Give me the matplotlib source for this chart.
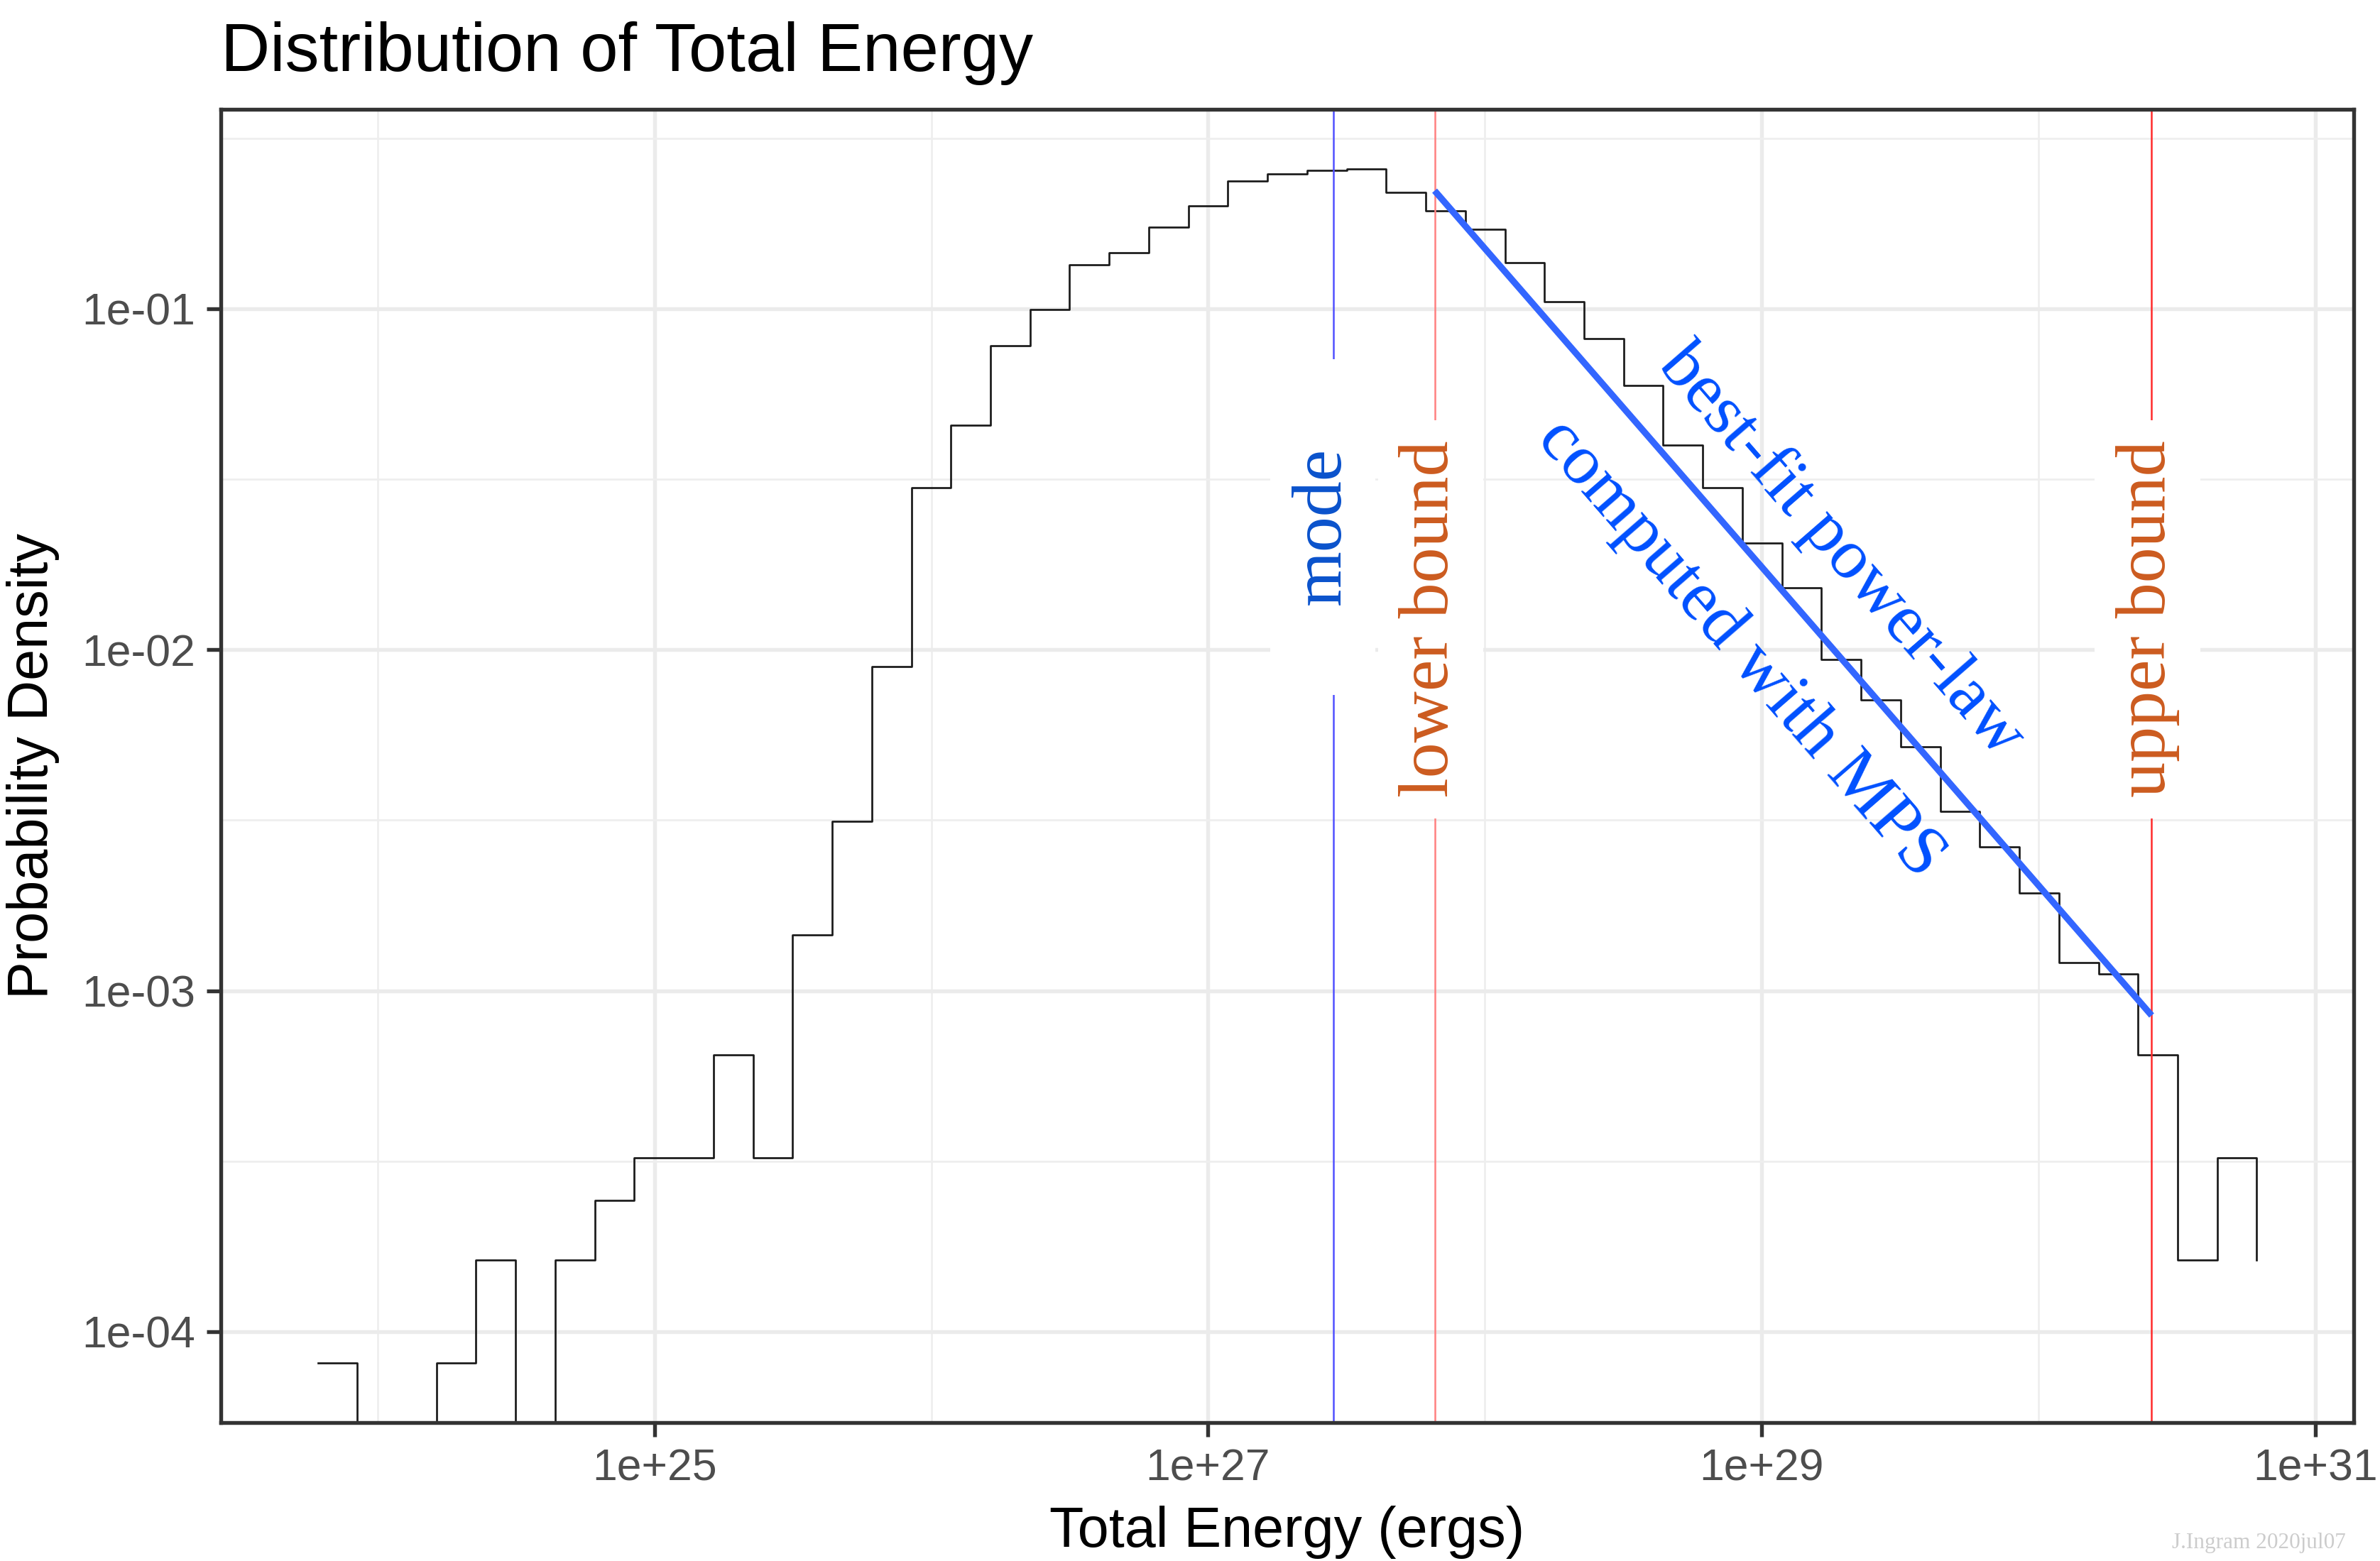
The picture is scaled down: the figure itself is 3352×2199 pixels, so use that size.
import numpy as np
import matplotlib
matplotlib.use("Agg")
import matplotlib.pyplot as plt
from matplotlib.ticker import FixedLocator, FixedFormatter, NullFormatter

plt.rcParams["font.family"] = ["Liberation Sans", "DejaVu Sans"]

# histogram of log10(total energy): 50 evenly spaced bin centres
log_energy_first = 23.784
log_energy_last = 30.788
n_bins = 50
density = [8.1e-5, 0, 0, 8.1e-5, 1.62e-4, 0, 1.62e-4, 2.43e-4, 3.24e-4, 3.24e-4,
           6.48e-4, 3.24e-4, 1.46e-3, 3.14e-3, 8.91e-3, 0.0299, 0.0456, 0.0779, 0.0995, 0.1346,
           0.1462, 0.1739, 0.2007, 0.2365, 0.2481, 0.2541, 0.2570, 0.2190, 0.1936, 0.1713,
           0.1367, 0.1047, 0.0819, 0.0597, 0.0398, 0.0299, 0.0206, 0.0152, 0.00938, 0.00711,
           0.0052, 0.00335, 0.00264, 0.00193, 0.00121, 0.00112, 6.48e-4, 1.62e-4, 3.24e-4, 1.62e-4]

# reference lines (ergs)
mode_energy = 2.84e27
lower_bound = 6.58e27
upper_bound = 2.56e30

# best-fit power law between the bounds
fit_energy = [lower_bound, upper_bound]
fit_density = [0.222, 8.46e-4]

x_ticks = [1e25, 1e27, 1e29, 1e31]
x_tick_labels = ["1e+25", "1e+27", "1e+29", "1e+31"]
x_minor = [1e24, 1e26, 1e28, 1e30]
y_ticks = [1e-4, 1e-3, 1e-2, 1e-1]
y_tick_labels = ["1e-04", "1e-03", "1e-02", "1e-01"]
y_minor = [10 ** -4.5, 10 ** -3.5, 10 ** -2.5, 10 ** -1.5, 10 ** -0.5]

centers = 10 ** np.linspace(log_energy_first, log_energy_last, n_bins)
dens = np.array(density)
dens_plot = np.where(dens > 0, dens, 1e-9)

W, H = 3353, 2199
fig = plt.figure(figsize=(W / 300, H / 300), dpi=300)
ax = fig.add_axes([311 / W, 1 - 2004 / H, (3315 - 311) / W, (2004 - 154) / H])
ax.set_xscale("log")
ax.set_yscale("log")

# ggplot-like 5% expansion on the log scale
lx = np.log10(centers)
ex = 0.05 * (lx.max() - lx.min())
ax.set_xlim(10 ** (lx.min() - ex), 10 ** (lx.max() + ex))
ly = np.log10(dens[dens > 0])
ey = 0.05 * (ly.max() - ly.min())
ax.set_ylim(10 ** (ly.min() - ey), 10 ** (ly.max() + ey))

ax.xaxis.set_major_locator(FixedLocator(x_ticks))
ax.xaxis.set_major_formatter(FixedFormatter(x_tick_labels))
ax.xaxis.set_minor_locator(FixedLocator(x_minor))
ax.xaxis.set_minor_formatter(NullFormatter())
ax.yaxis.set_major_locator(FixedLocator(y_ticks))
ax.yaxis.set_major_formatter(FixedFormatter(y_tick_labels))
ax.yaxis.set_minor_locator(FixedLocator(y_minor))
ax.yaxis.set_minor_formatter(NullFormatter())

ax.set_axisbelow(True)
ax.grid(which="major", color="#EBEBEB", lw=1.3)
ax.grid(which="minor", color="#EEEEEE", lw=0.65)
for s in ax.spines.values():
    s.set_color("#333333")
    s.set_linewidth(1.3)
ax.tick_params(which="major", length=4.75, width=1.3, color="#333333",
               labelsize=15, labelcolor="#4D4D4D", pad=3.8)
ax.tick_params(which="minor", length=0)

# histogram outline
ax.step(centers, dens_plot, where="post", color="#1a1a1a", lw=0.65, zorder=2)

# vertical markers
ax.axvline(mode_energy, color="#5050FF", lw=0.6, zorder=2)
ax.axvline(lower_bound, color="#FF8080", lw=0.6, zorder=2)
ax.axvline(upper_bound, color="#FF2A2A", lw=0.6, zorder=2)

# fitted power law
ax.plot(fit_energy, fit_density, color="#3366FF", lw=2.2, zorder=4,
        solid_capstyle="butt")

# labels on white boxes
serif = ["Liberation Serif", "DejaVu Serif"]
xt = ax.get_xaxis_transform()
labels = [
    ("mode", mode_energy * 10 ** -0.04, 0.683, 0.554, 0.810, "#0A52CC"),
    ("lower bound", lower_bound * 10 ** -0.015, 0.612, 0.460, 0.763, "#CC5B1F"),
    ("upper bound", upper_bound * 10 ** -0.015, 0.612, 0.460, 0.763, "#CC5B1F"),
]
for txt, xc, yc, y0, y1, col in labels:
    ax.axvspan(xc / 10 ** 0.19, xc * 10 ** 0.19, ymin=y0, ymax=y1,
               fc="white", ec="none", zorder=3)
    ax.text(xc, yc, txt, transform=xt, rotation=90, ha="center", va="center",
            rotation_mode="anchor", fontsize=24, color=col, family=serif, zorder=5)

ax.text(1.945e29, 0.01948, "best-fit power-law", rotation=-49, rotation_mode="anchor",
        ha="center", va="center", fontsize=24, color="#0050FF", family=serif, zorder=5)
ax.text(8.36e28, 0.01006, "computed with MPS", rotation=-49, rotation_mode="anchor",
        ha="center", va="center", fontsize=24, color="#0050FF", family=serif, zorder=5)

# titles
fig.text(311 / W, 1 - 100 / H, "Distribution of Total Energy", fontsize=23,
         ha="left", va="baseline")
fig.text((311 + 3315) / 2 / W, 1 - 2179 / H, "Total Energy (ergs)", fontsize=19,
         ha="center", va="baseline")
fig.text(47 / W, 1 - (154 + 2004) / 2 / H, "Probability Density", fontsize=19,
         rotation=90, ha="center", va="center")
fig.text(3304 / W, 1 - 2181 / H, "J.Ingram 2020jul07", fontsize=7.5, color="#CCCCCC",
         family=serif, ha="right", va="baseline")

fig.savefig("out.png", dpi=300)
